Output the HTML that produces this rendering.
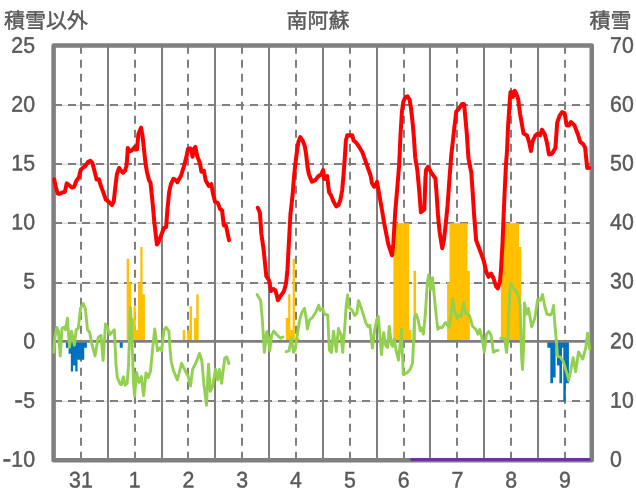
<!DOCTYPE html>
<html><head><meta charset="utf-8"><title>chart</title>
<style>html,body{margin:0;padding:0;background:#fff;overflow:hidden;}svg{display:block;}text{text-rendering:geometricPrecision;font-family:"Liberation Sans",sans-serif;font-size:22.5px;fill:#595959;}</style>
</head><body>
<svg width="636" height="501" viewBox="0 0 636 501">
<rect x="0" y="0" width="636" height="501" fill="#ffffff"/>
<g fill="none">
<line x1="54.0" y1="105.3" x2="591.8" y2="105.3" stroke="#cdcdcd" stroke-width="0.9"/>
<line x1="54.0" y1="105.0" x2="591.8" y2="105.0" stroke="#7f7f7f" stroke-width="2" stroke-dasharray="8 6"/>
<line x1="54.0" y1="164.3" x2="591.8" y2="164.3" stroke="#cdcdcd" stroke-width="0.9"/>
<line x1="54.0" y1="164.0" x2="591.8" y2="164.0" stroke="#7f7f7f" stroke-width="2" stroke-dasharray="8 6"/>
<line x1="54.0" y1="223.3" x2="591.8" y2="223.3" stroke="#cdcdcd" stroke-width="0.9"/>
<line x1="54.0" y1="223.0" x2="591.8" y2="223.0" stroke="#7f7f7f" stroke-width="2" stroke-dasharray="8 6"/>
<line x1="54.0" y1="283.3" x2="591.8" y2="283.3" stroke="#cdcdcd" stroke-width="0.9"/>
<line x1="54.0" y1="283.0" x2="591.8" y2="283.0" stroke="#7f7f7f" stroke-width="2" stroke-dasharray="8 6"/>
<line x1="54.0" y1="401.3" x2="591.8" y2="401.3" stroke="#cdcdcd" stroke-width="0.9"/>
<line x1="54.0" y1="401.0" x2="591.8" y2="401.0" stroke="#7f7f7f" stroke-width="2" stroke-dasharray="8 6"/>
<line x1="81.0" y1="45.8" x2="81.0" y2="460.1" stroke="#7f7f7f" stroke-width="2" stroke-dasharray="8 6"/>
<line x1="108.0" y1="45.4" x2="108.0" y2="460.1" stroke="#7f7f7f" stroke-width="2"/>
<line x1="135.0" y1="45.8" x2="135.0" y2="460.1" stroke="#7f7f7f" stroke-width="2" stroke-dasharray="8 6"/>
<line x1="162.0" y1="45.4" x2="162.0" y2="460.1" stroke="#7f7f7f" stroke-width="2"/>
<line x1="188.0" y1="45.8" x2="188.0" y2="460.1" stroke="#7f7f7f" stroke-width="2" stroke-dasharray="8 6"/>
<line x1="215.0" y1="45.4" x2="215.0" y2="460.1" stroke="#7f7f7f" stroke-width="2"/>
<line x1="242.0" y1="45.8" x2="242.0" y2="460.1" stroke="#7f7f7f" stroke-width="2" stroke-dasharray="8 6"/>
<line x1="269.0" y1="45.4" x2="269.0" y2="460.1" stroke="#7f7f7f" stroke-width="2"/>
<line x1="296.0" y1="45.8" x2="296.0" y2="460.1" stroke="#7f7f7f" stroke-width="2" stroke-dasharray="8 6"/>
<line x1="323.0" y1="45.4" x2="323.0" y2="460.1" stroke="#7f7f7f" stroke-width="2"/>
<line x1="350.0" y1="45.8" x2="350.0" y2="460.1" stroke="#7f7f7f" stroke-width="2" stroke-dasharray="8 6"/>
<line x1="377.0" y1="45.4" x2="377.0" y2="460.1" stroke="#7f7f7f" stroke-width="2"/>
<line x1="404.0" y1="45.8" x2="404.0" y2="460.1" stroke="#7f7f7f" stroke-width="2" stroke-dasharray="8 6"/>
<line x1="430.0" y1="45.4" x2="430.0" y2="460.1" stroke="#7f7f7f" stroke-width="2"/>
<line x1="457.0" y1="45.8" x2="457.0" y2="460.1" stroke="#7f7f7f" stroke-width="2" stroke-dasharray="8 6"/>
<line x1="484.0" y1="45.4" x2="484.0" y2="460.1" stroke="#7f7f7f" stroke-width="2"/>
<line x1="511.0" y1="45.8" x2="511.0" y2="460.1" stroke="#7f7f7f" stroke-width="2" stroke-dasharray="8 6"/>
<line x1="538.0" y1="45.4" x2="538.0" y2="460.1" stroke="#7f7f7f" stroke-width="2"/>
<line x1="565.0" y1="45.8" x2="565.0" y2="460.1" stroke="#7f7f7f" stroke-width="2" stroke-dasharray="8 6"/>
</g>
<path fill="#ffc000" transform="translate(0 0.25)" d="M126.68 341.50L126.68 258.58L129.07 258.58L129.07 282.27L131.31 282.27L131.31 317.81L133.55 317.81L133.55 305.96L135.79 305.96L135.79 329.65L138.03 329.65L138.03 282.27L140.27 282.27L140.27 246.74L142.51 246.74L142.51 294.12L144.90 294.12L144.90 341.50ZM182.70 341.50L182.70 329.65L185.24 329.65L185.24 341.50ZM187.18 341.50L187.18 329.65L189.57 329.65L189.57 305.96L191.96 305.96L191.96 341.50ZM193.90 341.50L193.90 317.81L196.29 317.81L196.29 294.12L198.68 294.12L198.68 341.50ZM285.78 341.50L285.78 317.81L288.17 317.81L288.17 294.12L290.41 294.12L290.41 329.65L292.65 329.65L292.65 258.58L294.89 258.58L294.89 337.95L297.13 337.95L297.13 337.95L299.52 337.95L299.52 341.50ZM393.34 341.50L393.34 246.74L395.73 246.74L395.73 223.05L397.97 223.05L397.97 223.05L400.21 223.05L400.21 223.05L402.45 223.05L402.45 223.05L404.69 223.05L404.69 223.05L406.93 223.05L406.93 223.05L409.17 223.05L409.17 329.65L411.56 329.65L411.56 341.50ZM413.50 341.50L413.50 270.43L416.04 270.43L416.04 341.50ZM447.12 341.50L447.12 282.27L449.51 282.27L449.51 223.05L451.75 223.05L451.75 223.05L453.99 223.05L453.99 223.05L456.23 223.05L456.23 223.05L458.47 223.05L458.47 223.05L460.71 223.05L460.71 223.05L462.95 223.05L462.95 223.05L465.19 223.05L465.19 223.05L467.43 223.05L467.43 270.43L469.82 270.43L469.82 341.50ZM500.90 341.50L500.90 246.74L503.29 246.74L503.29 223.05L505.53 223.05L505.53 223.05L507.77 223.05L507.77 223.05L510.01 223.05L510.01 223.05L512.25 223.05L512.25 223.05L514.49 223.05L514.49 223.05L516.73 223.05L516.73 223.05L518.97 223.05L518.97 246.74L521.36 246.74L521.36 341.50Z"/>
<path fill="#0070c0" transform="translate(0 0.4)" d="M65.92 341.50L65.92 347.42L68.57 347.42L68.57 353.35L70.81 353.35L70.81 371.11L73.05 371.11L73.05 365.19L75.29 365.19L75.29 371.11L77.53 371.11L77.53 359.27L79.77 359.27L79.77 359.27L82.01 359.27L82.01 359.27L84.25 359.27L84.25 347.42L86.89 347.42L86.89 341.50ZM119.70 341.50L119.70 347.42L122.75 347.42L122.75 341.50ZM547.30 341.50L547.30 347.42L550.30 347.42L550.30 382.96L553.00 382.96L553.00 377.04L555.60 377.04L555.60 347.42L556.90 347.42L556.90 365.19L559.40 365.19L559.40 382.96L562.00 382.96L562.00 347.42L563.30 347.42L563.30 400.73L565.80 400.73L565.80 382.96L568.90 382.96L568.90 341.50Z"/>
<line x1="54.0" y1="341.4" x2="591.8" y2="341.4" stroke="#7f7f7f" stroke-width="2.7"/>
<rect x="53.6" y="45.4" width="538.15" height="414.85" fill="none" stroke="#7f7f7f" stroke-width="4.5" stroke-linejoin="round"/>
<line x1="410.5" y1="459.5" x2="590.5" y2="459.5" stroke="#7030a0" stroke-width="3"/>
<g fill="none" stroke="#92d050" stroke-width="2.9" stroke-linejoin="round" stroke-linecap="round">
<polyline points="53.8,352.2 55.0,336.7 56.8,327.5 58.5,331.1 60.2,356.0 62.0,328.2 64.2,327.1 65.6,329.7 67.4,318.3 69.5,347.4 71.5,331.1 74.4,345.2 76.2,329.7 78.3,328.2 80.5,308.4 83.3,303.5 85.4,309.1 87.5,329.7 89.7,332.5 91.8,343.8 95.0,356.0 98.2,337.5 101.0,335.3 103.1,360.5 105.5,324.0 107.4,327.5 109.8,334.6 114.4,329.7 115.9,363.3 117.3,377.5 120.1,383.9 121.5,384.6 123.4,376.8 125.1,385.3 127.2,383.2 128.6,363.3 130.3,307.7 131.6,323.3 132.2,346.5 133.6,384.6 134.6,396.2 136.5,372.5 139.0,382.6 141.3,376.5 143.6,395.6 146.0,373.0 148.2,377.4 150.5,371.3 152.6,348.7 154.7,329.0 157.5,350.7 159.8,348.0 161.6,350.8 163.9,330.4 166.0,327.3 168.9,331.1 170.3,351.7 171.2,361.5 173.4,370.4 177.3,380.0 181.6,363.3 185.6,371.3 188.2,376.5 190.5,386.0 192.6,369.5 196.9,360.5 199.5,353.4 201.8,360.5 203.8,383.4 206.5,405.2 208.5,364.3 210.3,391.3 212.5,386.9 215.5,369.5 217.7,380.0 219.5,369.5 221.6,383.4 224.7,358.2 226.8,357.0 229.0,363.5"/>
<polyline points="257.1,294.5 260.6,300.5 262.0,315.5 263.5,337.5 264.4,352.4 266.7,331.8 268.4,338.9 269.8,350.9 271.5,335.4 273.8,331.1 276.9,334.7 280.5,338.2 282.9,337.1"/>
<polyline points="286.1,351.7 289.0,350.9 291.4,338.2 293.6,352.4 295.3,348.8 297.5,333.2 299.6,320.5 301.7,312.7 304.5,308.3 305.9,316.2 307.4,329.0 309.5,320.0 312.3,317.7 315.9,312.0 318.7,305.2 320.1,310.5 322.3,308.6 325.0,314.5 327.7,315.0 328.7,337.0 329.5,350.2 331.5,352.4 333.5,331.1 336.3,351.6 338.4,328.5 341.2,335.3 342.7,352.3 344.8,326.8 346.2,305.6 347.6,295.0 349.0,307.7 351.9,309.8 354.7,315.5 356.8,313.4 358.5,300.6 360.4,305.6 363.2,314.1 366.0,323.3 368.2,326.8 369.9,325.4 372.4,348.1 374.5,331.1 376.7,319.7 378.3,316.3 380.1,338.0 381.5,354.5 383.6,332.6 385.7,345.3 387.6,347.5 389.3,326.4 391.4,344.2 392.8,346.4 394.2,339.0 396.3,351.4 398.5,360.2 399.9,347.0 401.4,329.5 402.6,357.5 403.3,374.5 407.6,372.4 410.4,368.8 412.5,363.2 413.5,343.3 414.4,318.0 416.2,314.3 418.3,320.5 420.2,330.7 421.8,327.9 423.4,334.2 425.2,316.0 427.3,283.4 428.7,274.6 430.7,289.8 432.5,277.7 434.0,293.3 436.1,314.6 437.8,329.3 439.8,327.2 441.9,327.8 444.5,324.0 445.7,322.5 448.8,327.2 450.9,316.9 452.8,299.0 454.5,310.3 457.3,318.5 459.4,315.0 461.2,316.0 463.8,302.5 465.8,313.5 467.5,313.9 469.6,316.0 472.6,326.3 475.9,329.5 477.9,334.2 479.7,329.4 481.8,337.0 484.3,351.9 486.5,334.3 488.7,331.3 490.7,334.3 492.0,341.4 493.4,352.4 495.9,350.8 498.1,350.4"/>
<polyline points="500.8,338.3 504.7,338.7 506.5,352.4 508.0,338.7 508.8,312.5 510.0,288.4 510.9,283.5 513.1,287.7 515.9,290.5 518.7,296.9 520.1,306.0 520.9,337.0 521.7,359.0 522.5,369.5 523.6,348.0 524.5,303.0 526.6,314.0 528.5,308.4 531.7,326.8 534.8,318.3 537.7,299.2 540.2,300.6 542.6,294.6 544.7,306.2 546.9,314.0 550.4,315.0 552.1,312.6 553.5,305.5 554.9,324.7 556.4,341.0 557.5,356.2 560.3,357.0 563.2,361.2 566.0,370.4 568.8,380.3 571.0,369.0 573.1,357.7 575.6,371.8 578.5,352.0 582.7,359.1 585.8,347.7 587.6,333.2 589.6,349.0"/>
</g>
<g fill="none" stroke="#ff0000" stroke-width="4" stroke-linejoin="round" stroke-linecap="round">
<polyline points="54.2,179.3 55.7,186.9 57.8,193.7 59.9,193.7 62.7,192.3 64.9,191.9 66.7,183.4 69.1,185.2 72.0,187.6 74.1,186.9 76.2,181.2 79.0,177.0 80.7,169.7 83.3,167.5 85.4,166.0 88.2,161.7 90.4,160.7 92.5,163.3 94.6,171.5 96.6,179.5 98.9,179.2 101.0,186.2 103.1,191.9 105.9,199.7 108.8,201.8 112.0,205.0 113.7,201.8 115.2,188.3 116.9,174.2 119.1,168.0 120.8,170.4 122.9,172.8 125.1,170.5 126.7,165.0 127.8,148.0 129.8,151.5 132.3,150.0 134.5,147.2 137.0,149.5 138.4,134.0 141.0,127.7 142.4,134.8 144.1,150.4 145.5,163.2 146.9,171.7 149.0,180.0 150.5,182.8 152.6,202.8 154.3,221.9 156.9,244.5 158.7,241.9 161.3,234.9 163.9,228.0 166.1,227.1 167.4,209.8 169.1,192.4 170.8,184.6 173.4,178.8 176.0,180.2 177.3,182.3 181.1,175.5 184.4,164.6 186.6,156.1 188.0,149.0 190.1,148.3 191.5,150.4 192.5,156.8 193.9,149.0 195.4,146.9 197.2,156.1 200.0,163.2 201.4,171.7 203.9,170.9 205.7,180.5 208.8,186.0 211.3,184.0 213.1,194.1 215.1,201.9 217.7,202.8 220.0,208.9 222.1,210.6 223.8,225.4 225.9,225.4 229.0,240.2"/>
<polyline points="257.8,207.7 259.9,212.7 261.3,233.2 263.5,248.8 264.2,255.0 266.3,276.2 269.1,280.5 271.0,291.1 273.4,289.0 275.5,290.4 278.0,300.3 280.5,296.1 284.0,291.1 286.1,283.3 287.5,269.2 288.5,250.0 290.4,214.8 291.8,202.1 292.6,195.1 294.2,174.6 296.3,156.2 298.4,142.0 300.3,137.0 302.7,140.6 304.8,146.2 306.2,154.7 307.6,167.5 309.0,174.6 311.9,181.7 315.4,180.2 318.2,176.3 321.1,174.6 323.1,170.1 324.3,179.0 327.2,176.0 329.0,192.0 331.2,195.6 333.4,201.3 336.2,206.4 338.4,205.2 340.5,199.5 342.2,190.0 343.6,174.0 344.9,156.2 345.9,140.6 347.3,135.2 352.2,135.2 353.7,140.6 356.5,143.1 359.3,147.0 362.2,151.9 365.3,160.5 370.6,175.5 372.0,183.3 374.1,186.8 375.5,185.4 377.0,181.9 379.1,193.9 381.9,209.5 384.2,223.4 388.4,244.7 392.0,255.3 393.4,243.2 395.2,212.0 397.5,185.4 399.2,164.2 400.5,135.0 401.9,111.9 403.3,102.0 405.4,97.0 407.5,96.3 409.7,99.9 411.1,109.1 412.5,121.8 413.9,137.4 415.2,157.5 417.3,169.8 419.4,192.5 420.9,212.3 424.4,209.5 425.4,178.3 426.1,169.8 427.9,166.9 431.5,172.8 435.4,178.5 436.4,191.1 438.0,215.0 439.6,232.0 442.2,248.2 443.9,240.4 445.8,223.4 447.6,205.0 449.5,178.0 451.3,155.1 454.2,128.9 456.3,111.5 459.1,108.4 462.0,104.1 464.1,104.1 465.5,119.0 466.9,134.6 468.0,152.0 468.5,158.5 471.3,172.7 472.7,192.5 474.1,215.0 476.2,240.5 480.5,251.8 484.0,261.7 486.2,271.7 488.6,276.8 491.1,273.6 493.6,278.5 496.1,286.5 497.8,288.4 500.0,281.3 501.0,270.0 502.5,243.3 504.5,195.0 506.0,164.2 507.1,150.0 508.0,127.5 509.4,106.2 510.5,92.1 511.5,92.1 512.9,97.0 514.8,90.9 516.5,94.2 518.2,99.2 520.0,113.3 521.7,123.0 523.5,133.5 527.0,135.4 529.2,142.5 531.0,151.0 532.7,141.1 535.5,135.4 537.7,133.7 540.2,135.4 541.9,129.7 544.7,134.0 546.9,142.5 549.0,154.5 551.8,153.8 555.4,148.2 557.2,122.7 559.6,115.6 562.2,112.0 564.6,113.0 566.7,125.5 568.8,125.5 570.9,122.0 574.5,125.5 578.0,134.7 580.2,141.8 583.0,143.9 585.1,147.5 587.2,168.0 589.4,167.7"/>
</g>
<g opacity="0.999" stroke="#595959" stroke-width="0.45" stroke-linejoin="round">
<text transform="translate(35.00 52.70) rotate(0.03) scale(0.946 1)" text-anchor="end">25</text>
<text transform="translate(35.00 111.70) rotate(0.03) scale(0.946 1)" text-anchor="end">20</text>
<text transform="translate(35.00 170.60) rotate(0.03) scale(0.946 1)" text-anchor="end">15</text>
<text transform="translate(35.00 229.60) rotate(0.03) scale(0.946 1)" text-anchor="end">10</text>
<text transform="translate(35.00 288.60) rotate(0.03) scale(0.946 1)" text-anchor="end">5</text>
<text transform="translate(35.00 348.60) rotate(0.03) scale(0.946 1)" text-anchor="end">0</text>
<text transform="translate(35.00 407.70) rotate(0.03) scale(0.946 1)" text-anchor="end"><tspan font-size="28" dy="1.1">-</tspan><tspan dy="-1.1">5</tspan></text>
<text transform="translate(35.00 466.70) rotate(0.03) scale(0.946 1)" text-anchor="end"><tspan font-size="28" dy="1.1">-</tspan><tspan dy="-1.1">10</tspan></text>
<text transform="translate(610.10 52.70) rotate(0.03) scale(0.946 1)" text-anchor="start">70</text>
<text transform="translate(610.10 111.70) rotate(0.03) scale(0.946 1)" text-anchor="start">60</text>
<text transform="translate(610.10 170.60) rotate(0.03) scale(0.946 1)" text-anchor="start">50</text>
<text transform="translate(610.10 229.60) rotate(0.03) scale(0.946 1)" text-anchor="start">40</text>
<text transform="translate(610.10 288.60) rotate(0.03) scale(0.946 1)" text-anchor="start">30</text>
<text transform="translate(610.10 348.60) rotate(0.03) scale(0.946 1)" text-anchor="start">20</text>
<text transform="translate(610.10 407.70) rotate(0.03) scale(0.946 1)" text-anchor="start">10</text>
<text transform="translate(610.10 466.70) rotate(0.03) scale(0.946 1)" text-anchor="start">0</text>
<text transform="translate(80.89 487.60) rotate(0.03) scale(0.946 1)" text-anchor="middle">31</text>
<text transform="translate(134.67 487.60) rotate(0.03) scale(0.946 1)" text-anchor="middle">1</text>
<text transform="translate(188.45 487.60) rotate(0.03) scale(0.946 1)" text-anchor="middle">2</text>
<text transform="translate(242.23 487.60) rotate(0.03) scale(0.946 1)" text-anchor="middle">3</text>
<text transform="translate(296.01 487.60) rotate(0.03) scale(0.946 1)" text-anchor="middle">4</text>
<text transform="translate(349.79 487.60) rotate(0.03) scale(0.946 1)" text-anchor="middle">5</text>
<text transform="translate(403.57 487.60) rotate(0.03) scale(0.946 1)" text-anchor="middle">6</text>
<text transform="translate(457.35 487.60) rotate(0.03) scale(0.946 1)" text-anchor="middle">7</text>
<text transform="translate(511.13 487.60) rotate(0.03) scale(0.946 1)" text-anchor="middle">8</text>
<text transform="translate(564.91 487.60) rotate(0.03) scale(0.946 1)" text-anchor="middle">9</text>
</g>
<g fill="#595959" stroke="#595959" stroke-width="0.45" stroke-linejoin="round">
<text x="4" y="28.35" text-anchor="start" style="font-family:'Liberation Sans','Noto Sans CJK JP',sans-serif;font-size:21px;">積雪以外</text>
<text x="286.6" y="28.35" text-anchor="start" style="font-family:'Liberation Sans','Noto Sans CJK JP',sans-serif;font-size:21px;">南阿蘇</text>
<text x="589.4" y="28.35" text-anchor="start" style="font-family:'Liberation Sans','Noto Sans CJK JP',sans-serif;font-size:21px;">積雪</text>
</g>
</svg></body></html>
